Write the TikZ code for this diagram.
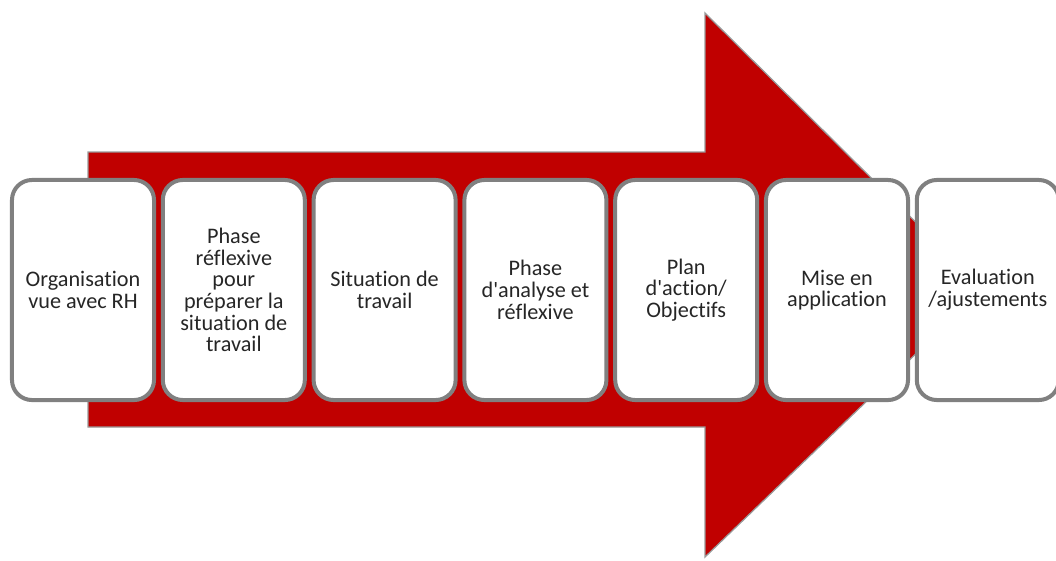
\documentclass[tikz,border=0pt]{standalone}
\usepackage{fontspec}
\setmainfont{Carlito}[Ligatures={TeXOff,NoCommon}]
\definecolor{arrowred}{RGB}{192,0,0}
\definecolor{boxgray}{RGB}{128,128,128}

\begin{document}
\begin{tikzpicture}[x=0.025cm,y=-0.025cm,
  phase/.style={draw=boxgray,line width=2.85pt,fill=white,rounded corners=0.5cm,
    minimum width=3.55cm,minimum height=5.5cm,align=center,text=black!85,
    font=\fontsize{15.8}{15.4}\selectfont,inner sep=2pt}]
  \useasboundingbox (0,0) rectangle (1056,560);
  \begin{scope}
  \clip (0,0) rectangle (1056,560);
  \path[draw=boxgray!80,line width=0.9pt,fill=arrowred] (88,152) -- (705,152) -- (705,13) -- (983,289) -- (705,557) -- (705,427) -- (88,427) -- cycle;
  \node[phase] (1) at (83, 290)    {Organisation\\vue avec RH};
  \node[phase] (2) at (233.8, 290) {Phase\\réflexive\\pour\\préparer la\\situation de\\travail};
  \node[phase] (3) at (384.6, 290) {Situation de\\travail};
  \node[phase] (4) at (535.4, 290) {Phase\\d'analyse et\\réflexive};
  \node[phase] (5) at (686.2, 290) {Plan\\d'action/\\Objectifs};
  \node[phase] (6) at (837, 290)   {Mise en\\application};
  \node[phase] (7) at (987.8, 290) {Evaluation\\/ajustements};
  \end{scope}
\end{tikzpicture}
\end{document}
